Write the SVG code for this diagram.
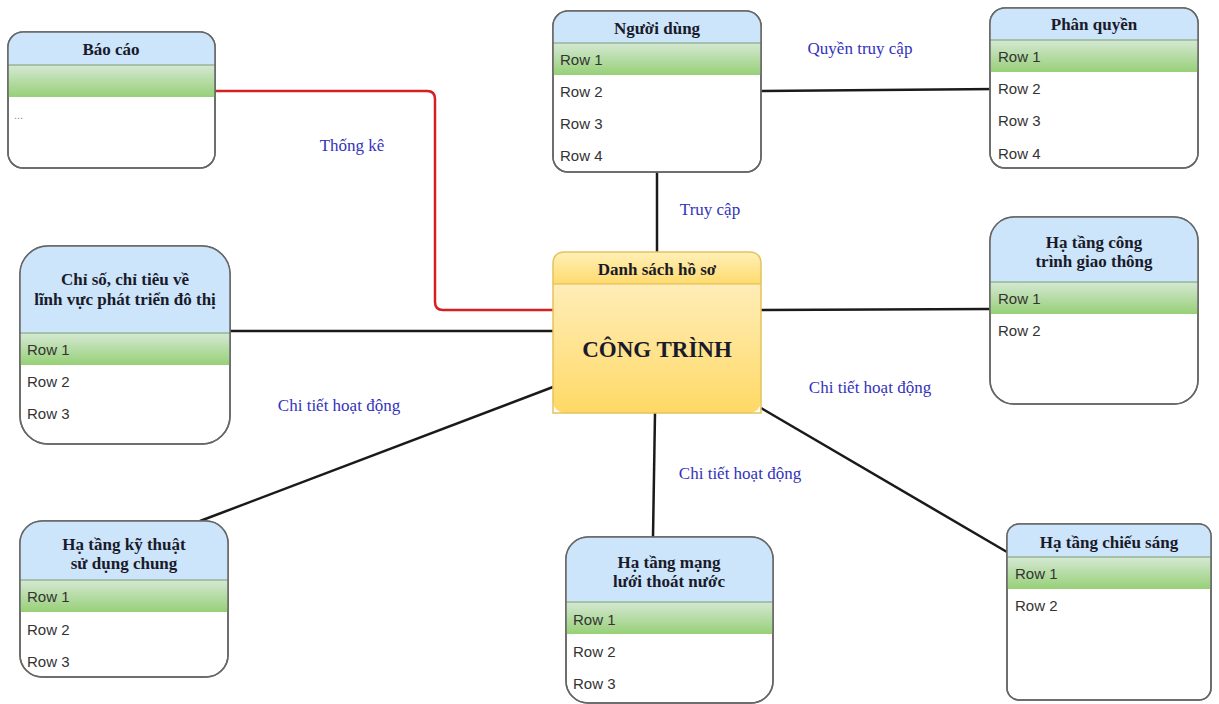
<svg xmlns="http://www.w3.org/2000/svg" width="1219" height="704" viewBox="0 0 1219 704">
<defs>
<linearGradient id="gGreen" x1="0" y1="0" x2="0" y2="1"><stop offset="0" stop-color="#d5e8d4"/><stop offset="1" stop-color="#97d077"/></linearGradient>
<linearGradient id="gYellow" x1="0" y1="0" x2="0" y2="1"><stop offset="0" stop-color="#fff2cc"/><stop offset="1" stop-color="#ffd966"/></linearGradient>
<linearGradient id="gYellowH" x1="0" y1="0" x2="0" y2="1"><stop offset="0" stop-color="#fff0b8"/><stop offset="1" stop-color="#ffdb6e"/></linearGradient>
</defs>
<style>
.frame{fill:#ffffff;stroke:#666666;stroke-width:1.5}
.hdr{fill:#cce5fb}
.grn{fill:url(#gGreen)}
.sep{stroke:#7a9c6a;stroke-width:1}
.t{font-family:"Liberation Serif",serif;font-weight:bold;font-size:17px;fill:#1a1a2a;text-anchor:middle}
.r{font-family:"Liberation Sans",sans-serif;font-size:15px;fill:#333333}
.lbl{font-family:"Liberation Serif",serif;font-size:17px;fill:#3333bb;text-anchor:middle}
.c{fill:none;stroke:#1a1a1a;stroke-width:2.5}
</style>
<rect width="1219" height="704" fill="#ffffff"/>
<g id="connectors">
<path d="M215 91 H427 Q435 91 435 99 V302 Q435 310 443 310 H553" fill="none" stroke="#d42020" stroke-width="2.5"/>
<line class="c" x1="761" y1="91" x2="997" y2="89"/>
<line class="c" x1="657" y1="172" x2="657" y2="252"/>
<line class="c" x1="230" y1="331" x2="553" y2="331"/>
<line class="c" x1="761" y1="310" x2="990" y2="309"/>
<line class="c" x1="553" y1="387" x2="200" y2="521"/>
<line class="c" x1="655" y1="413" x2="653" y2="537"/>
<line class="c" x1="761" y1="408" x2="1007" y2="552"/>
<text class="lbl" x="352" y="151">Thống kê</text>
<text class="lbl" x="860" y="54">Quyền truy cập</text>
<text class="lbl" x="710" y="215">Truy cập</text>
<text class="lbl" x="339" y="411">Chi tiết hoạt động</text>
<text class="lbl" x="870" y="393">Chi tiết hoạt động</text>
<text class="lbl" x="740" y="479">Chi tiết hoạt động</text>
</g>
<g id="bao-cao">
<clipPath id="cp1"><rect x="8" y="32" width="207" height="136" rx="15"/></clipPath>
<rect class="frame" x="8" y="32" width="207" height="136" rx="15"/>
<g clip-path="url(#cp1)"><rect class="hdr" x="8" y="32" width="207" height="33"/><rect class="grn" x="8" y="65" width="207" height="32"/></g>
<line class="sep" x1="8" y1="65" x2="215" y2="65"/>
<rect x="8" y="32" width="207" height="136" rx="15" fill="none" stroke="#666" stroke-width="1.5"/>
<text class="t" x="111" y="55">Báo cáo</text>
<text class="r" x="14" y="119" style="font-size:11px;fill:#888">...</text>
</g>
<g id="nguoi-dung">
<clipPath id="cp2"><rect x="553" y="11" width="208" height="161" rx="15"/></clipPath>
<rect class="frame" x="553" y="11" width="208" height="161" rx="15"/>
<g clip-path="url(#cp2)"><rect class="hdr" x="553" y="11" width="208" height="32"/><rect class="grn" x="553" y="43" width="208" height="32"/></g>
<line class="sep" x1="553" y1="43" x2="761" y2="43"/>
<rect x="553" y="11" width="208" height="161" rx="15" fill="none" stroke="#666" stroke-width="1.5"/>
<text class="t" x="657" y="34">Người dùng</text>
<text class="r" x="560" y="65">Row 1</text>
<text class="r" x="560" y="97">Row 2</text>
<text class="r" x="560" y="129">Row 3</text>
<text class="r" x="560" y="161">Row 4</text>
</g>
<g id="phan-quyen">
<clipPath id="cp3"><rect x="990" y="8" width="208" height="160" rx="15"/></clipPath>
<rect class="frame" x="990" y="8" width="208" height="160" rx="15"/>
<g clip-path="url(#cp3)"><rect class="hdr" x="990" y="8" width="208" height="32"/><rect class="grn" x="990" y="40" width="208" height="32"/></g>
<line class="sep" x1="990" y1="40" x2="1198" y2="40"/>
<rect x="990" y="8" width="208" height="160" rx="15" fill="none" stroke="#666" stroke-width="1.5"/>
<text class="t" x="1094" y="30">Phân quyền</text>
<text class="r" x="998" y="62">Row 1</text>
<text class="r" x="998" y="94">Row 2</text>
<text class="r" x="998" y="126">Row 3</text>
<text class="r" x="998" y="159">Row 4</text>
</g>
<g id="cong-trinh">
<clipPath id="cp4"><rect x="553" y="252" width="208" height="161" rx="12"/></clipPath>
<g clip-path="url(#cp4)"><rect x="553" y="252" width="208" height="161" fill="url(#gYellow)"/><rect x="553" y="252" width="208" height="32" fill="url(#gYellowH)"/></g>
<line x1="553" y1="284" x2="761" y2="284" stroke="#e0b850" stroke-width="1"/>
<path d="M553 413 V264 Q553 252 565 252 H749 Q761 252 761 264 V413 Z" fill="none" stroke="#e6c25a" stroke-width="1.5"/>
<text class="t" x="657" y="275">Danh sách hồ sơ</text>
<text class="t" x="657" y="357" style="font-size:23px">CÔNG TRÌNH</text>
</g>
<g id="chi-so">
<clipPath id="cp5"><rect x="20" y="246" width="210" height="198" rx="28"/></clipPath>
<rect class="frame" x="20" y="246" width="210" height="198" rx="28"/>
<g clip-path="url(#cp5)"><rect class="hdr" x="20" y="246" width="210" height="87"/><rect class="grn" x="20" y="333" width="210" height="32"/></g>
<line class="sep" x1="20" y1="333" x2="230" y2="333"/>
<rect x="20" y="246" width="210" height="198" rx="28" fill="none" stroke="#666" stroke-width="1.5"/>
<text class="t" x="125" y="285">Chỉ số, chỉ tiêu về</text>
<text class="t" x="125" y="305">lĩnh vực phát triển đô thị</text>
<text class="r" x="27" y="355">Row 1</text>
<text class="r" x="27" y="387">Row 2</text>
<text class="r" x="27" y="419">Row 3</text>
</g>
<g id="giao-thong">
<clipPath id="cp6"><rect x="990" y="217" width="208" height="187" rx="24"/></clipPath>
<rect class="frame" x="990" y="217" width="208" height="187" rx="24"/>
<g clip-path="url(#cp6)"><rect class="hdr" x="990" y="217" width="208" height="65"/><rect class="grn" x="990" y="282" width="208" height="32"/></g>
<line class="sep" x1="990" y1="282" x2="1198" y2="282"/>
<rect x="990" y="217" width="208" height="187" rx="24" fill="none" stroke="#666" stroke-width="1.5"/>
<text class="t" x="1094" y="248">Hạ tầng công</text>
<text class="t" x="1094" y="267">trình giao thông</text>
<text class="r" x="998" y="304">Row 1</text>
<text class="r" x="998" y="336">Row 2</text>
</g>
<g id="ky-thuat">
<clipPath id="cp7"><rect x="20" y="521" width="208" height="156" rx="22"/></clipPath>
<rect class="frame" x="20" y="521" width="208" height="156" rx="22"/>
<g clip-path="url(#cp7)"><rect class="hdr" x="20" y="521" width="208" height="59"/><rect class="grn" x="20" y="580" width="208" height="32"/></g>
<line class="sep" x1="20" y1="580" x2="228" y2="580"/>
<rect x="20" y="521" width="208" height="156" rx="22" fill="none" stroke="#666" stroke-width="1.5"/>
<text class="t" x="124" y="550">Hạ tầng kỹ thuật</text>
<text class="t" x="124" y="569">sử dụng chung</text>
<text class="r" x="27" y="602">Row 1</text>
<text class="r" x="27" y="635">Row 2</text>
<text class="r" x="27" y="667">Row 3</text>
</g>
<g id="thoat-nuoc">
<clipPath id="cp8"><rect x="566" y="537" width="207" height="166" rx="22"/></clipPath>
<rect class="frame" x="566" y="537" width="207" height="166" rx="22"/>
<g clip-path="url(#cp8)"><rect class="hdr" x="566" y="537" width="207" height="65"/><rect class="grn" x="566" y="602" width="207" height="32"/></g>
<line class="sep" x1="566" y1="602" x2="773" y2="602"/>
<rect x="566" y="537" width="207" height="166" rx="22" fill="none" stroke="#666" stroke-width="1.5"/>
<text class="t" x="669" y="568">Hạ tầng mạng</text>
<text class="t" x="669" y="587">lưới thoát nước</text>
<text class="r" x="573" y="625">Row 1</text>
<text class="r" x="573" y="657">Row 2</text>
<text class="r" x="573" y="689">Row 3</text>
</g>
<g id="chieu-sang">
<clipPath id="cp9"><rect x="1007" y="524" width="204" height="176" rx="12"/></clipPath>
<rect class="frame" x="1007" y="524" width="204" height="176" rx="12"/>
<g clip-path="url(#cp9)"><rect class="hdr" x="1007" y="524" width="204" height="33"/><rect class="grn" x="1007" y="557" width="204" height="32"/></g>
<line class="sep" x1="1007" y1="557" x2="1211" y2="557"/>
<rect x="1007" y="524" width="204" height="176" rx="12" fill="none" stroke="#666" stroke-width="1.5"/>
<text class="t" x="1109" y="548">Hạ tầng chiếu sáng</text>
<text class="r" x="1015" y="579">Row 1</text>
<text class="r" x="1015" y="611">Row 2</text>
</g>
</svg>
